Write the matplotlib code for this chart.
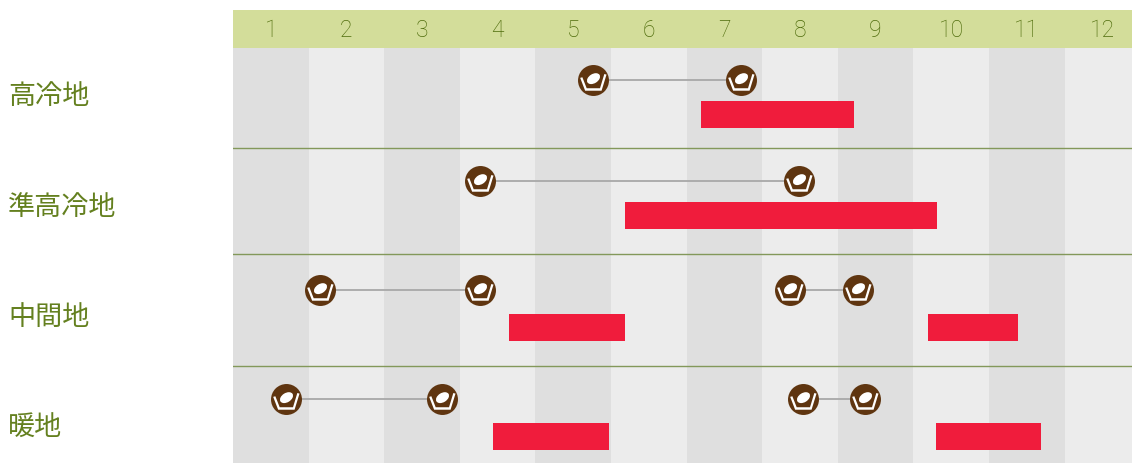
import matplotlib.pyplot as plt
from matplotlib.path import Path
from matplotlib.transforms import Affine2D

plt.rcParams["font.family"] = ["Noto Sans CJK JP", "DejaVu Sans"]

months = list(range(1, 13))
regions = ["高冷地", "準高冷地", "中間地", "暖地"]

# sowing periods and harvest periods per region, in month units (1.0 = start of January)
sowing = [
    [(5.76, 7.72)],
    [(4.27, 8.49)],
    [(2.15, 4.27), (8.37, 9.27)],
    [(1.70, 3.76), (8.54, 9.36)],
]
harvest = [
    [(7.19, 9.21)],
    [(6.19, 10.31)],
    [(4.65, 6.19), (10.19, 11.38)],
    [(4.44, 5.97), (10.30, 11.69)],
]

W, H = 1132, 463
MONTH_PX = 75.6

# layout in pixels
header_bottom = 47.5
row_lines = [147.5, 254, 366]
label_y = [93.5, 204.5, 314.5, 425.5]
sow_y = [80, 181, 290, 399]
bar_top = [101, 202, 314, 423]
bar_h = 27

GREEN = "#64801f"
BROWN = "#5f3510"
RED = "#f01c3c"


def seed_icon():
    # white basket and seed, in units of the circle radius
    outer = [(-0.86, 0.17), (-0.72, 0.21), (-0.44, -0.50), (0.42, -0.50), (0.70, 0.42), (0.84, 0.38),
             (0.52, -0.66), (-0.54, -0.66)]
    basket = Path(outer + [outer[0]], [Path.MOVETO] + [Path.LINETO] * 7 + [Path.CLOSEPOLY])
    seed = Path.unit_circle().transformed(Affine2D().scale(0.46, 0.30).rotate_deg(32).translate(0.0, 0.12))
    # keeps the marker scale tied to the circle radius
    scale = Path([(1, 0), (1, 0)], [Path.MOVETO, Path.LINETO])
    return Path.make_compound_path(scale, basket, seed)


fig = plt.figure(figsize=(W / 100, H / 100), dpi=100)
ax = fig.add_axes([233 / W, 0, (W - 233) / W, (H - 10) / H])
ax.set_xlim(1, 1 + (W - 233) / MONTH_PX)
ax.set_ylim(H, 10)

for m in months:
    ax.axvspan(m, m + 1, color="#dfdfdf" if m % 2 == 1 else "#ececec", lw=0, zorder=0)
ax.axhspan(10, header_bottom, color="#d3dd9a", lw=0, zorder=1)
for y in row_lines:
    ax.axhline(y, color="#83985a", lw=1, zorder=2)

icon = seed_icon()
for i in range(len(regions)):
    for start, end in harvest[i]:
        ax.barh(bar_top[i], end - start, left=start, height=bar_h, align="edge", color=RED, lw=0, zorder=3)
    for start, end in sowing[i]:
        ax.plot([start, end], [sow_y[i], sow_y[i]], color="#a8a8a8", lw=1.3, zorder=3)
        ax.scatter([start, end], [sow_y[i], sow_y[i]], s=22.3**2, color=BROWN, lw=0, zorder=4)
        ax.scatter([start, end], [sow_y[i], sow_y[i]], s=22.3**2, marker=icon, color="white", lw=0, zorder=5)

ax.set_xticks([m + 0.5 for m in months], [str(m) for m in months], fontsize=16.5, color="#4f6c0c",
              family=["Roboto"], fontweight="light")
ax.xaxis.tick_top()
ax.tick_params(axis="x", length=0, pad=-23)
ax.set_yticks(label_y, regions, fontsize=19.5, color=GREEN, ha="left")
ax.tick_params(axis="y", length=0, pad=(233 - 8) * 0.72)
for side in ax.spines.values():
    side.set_visible(False)

fig.savefig("out.png", dpi=100)
